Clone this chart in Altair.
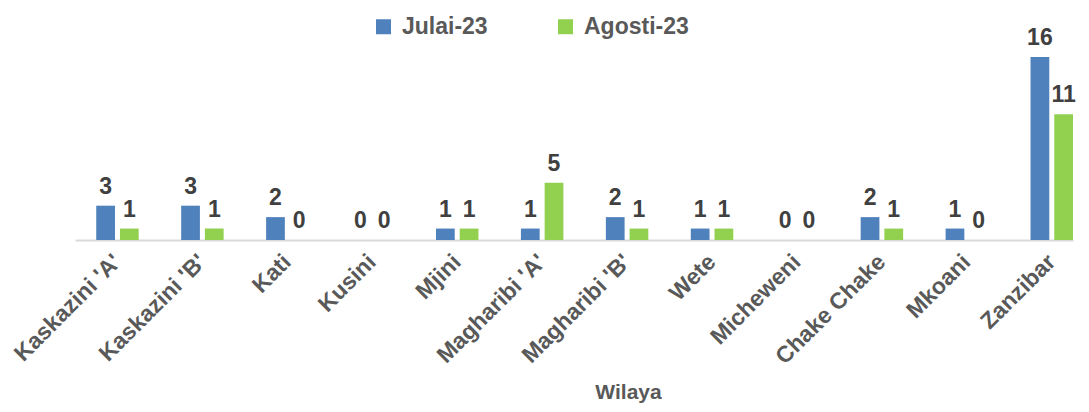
import altair as alt
import pandas as pd

wilaya = ["Kaskazini 'A'", "Kaskazini 'B'", "Kati", "Kusini", "Mjini", "Magharibi 'A'",
          "Magharibi 'B'", "Wete", "Micheweni", "Chake Chake", "Mkoani", "Zanzibar"]
julai = [3, 3, 2, 0, 1, 1, 2, 1, 0, 2, 1, 16]
agosti = [1, 1, 0, 0, 1, 5, 1, 1, 0, 1, 0, 11]
series = ["Julai-23", "Agosti-23"]
colors = ["#4F81BD", "#92D050"]

rows = []
for w, j, a in zip(wilaya, julai, agosti):
    rows.append({"Wilaya": w, "Mwezi": series[0], "Idadi": j})
    rows.append({"Wilaya": w, "Mwezi": series[1], "Idadi": a})
df = pd.DataFrame(rows)

FONT = "Liberation Sans, Arial, sans-serif"

x = alt.X("Wilaya:N", sort=wilaya,
          scale=alt.Scale(paddingInner=0.5, paddingOuter=0.125, align=1),
          axis=alt.Axis(title="Wilaya", labelAngle=-45, labelAlign="right", labelBaseline="middle",
                        labelFont=FONT, labelFontSize=23, labelFontWeight="bold", labelColor="#595959",
                        labelPadding=18, ticks=False, domainColor="#D9D9D9", domainWidth=2,
                        titleFont=FONT, titleFontSize=21, titleFontWeight="bold", titleColor="#595959",
                        titleX=553, titleY=158, titleAlign="center", titleBaseline="alphabetic",
                        labelOverlap=False))
xo = alt.XOffset("Mwezi:N", sort=series, scale=alt.Scale(paddingInner=0.21, paddingOuter=0))
y = alt.Y("Idadi:Q", scale=alt.Scale(domain=[0, 16], nice=False), axis=None)

bars = alt.Chart(df).mark_bar().encode(
    x=x, xOffset=xo, y=y,
    color=alt.Color("Mwezi:N", sort=series, scale=alt.Scale(domain=series, range=colors),
                    legend=alt.Legend(title=None, orient="none", direction="horizontal",
                                      legendX=297, legendY=-42, symbolType="square", symbolSize=225,
                                      symbolStrokeWidth=0, labelFont=FONT, labelFontSize=23,
                                      labelFontWeight="bold", labelColor="#595959", labelOffset=7,
                                      columnPadding=66)),
)
labels = alt.Chart(df).mark_text(font=FONT, fontSize=23, fontWeight="bold", color="#404040",
                                 baseline="bottom", dy=-7).encode(
    x=x, xOffset=xo, y=y, text="Idadi:Q")

chart = (bars + labels).properties(
    width=998, height=183,
    autosize=alt.AutoSizeParams(type="none"),
    padding={"left": 67, "top": 49, "right": 8, "bottom": 164},
).configure_view(stroke=None)

chart.save("out.html", embed_options={"renderer": "svg", "actions": False})
